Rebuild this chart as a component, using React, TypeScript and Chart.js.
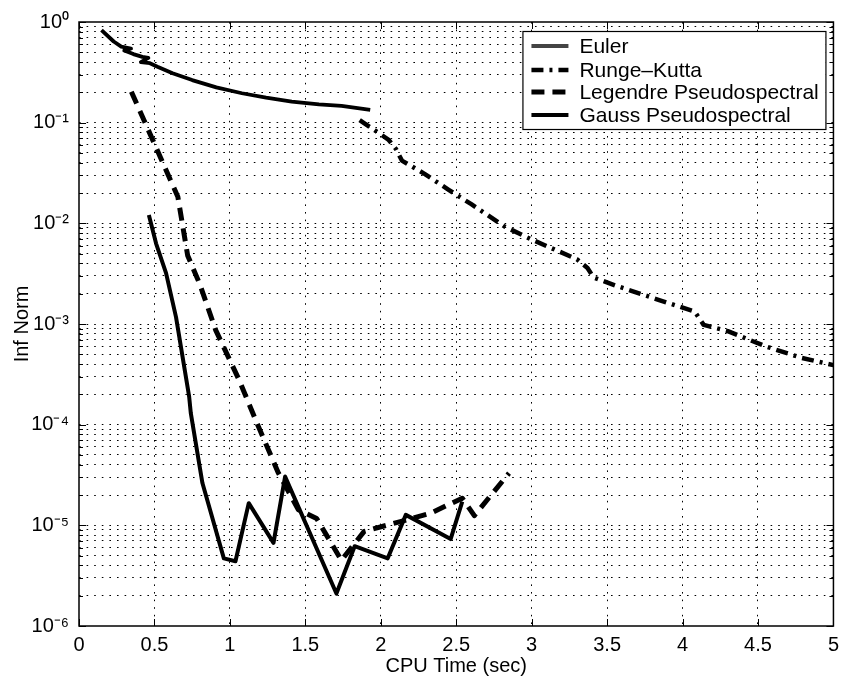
import React, { useEffect, useRef } from "react";
import { Chart, registerables } from "chart.js";

Chart.register(...registerables);

// ---- data ----
const xTickValues = [0, 0.5, 1, 1.5, 2, 2.5, 3, 3.5, 4, 4.5, 5];
const yDecadeExponents = [-6, -5, -4, -3, -2, -1, 0];
const yMinorFactors = [1, 2, 3, 4, 5, 6, 7, 8, 9];
const seriesLabels = ["Euler", "Runge–Kutta", "Legendre Pseudospectral", "Gauss Pseudospectral"];
const xTitle = "CPU Time (sec)";
const yTitle = "Inf Norm";

const eulerX = [0.149, 0.23, 0.28, 0.345, 0.3, 0.36, 0.42, 0.46, 0.41, 0.47, 0.52, 0.62, 0.75, 0.91, 1.08, 1.24, 1.41, 1.59, 1.74, 1.93];
const eulerY = [0.83, 0.64, 0.57, 0.545, 0.52, 0.48, 0.45, 0.44, 0.4, 0.39, 0.36, 0.31, 0.265, 0.224, 0.196, 0.177, 0.162, 0.152, 0.1465, 0.134];

const rkX = [1.86, 2.05, 2.1, 2.14, 2.29, 2.45, 2.6, 2.82, 3.0, 3.3, 3.37, 3.41, 3.56, 3.84, 4.08, 4.14, 4.3, 4.55, 4.79, 5.0];
const rkY = [0.106, 0.068, 0.055, 0.042, 0.031, 0.0215, 0.0155, 0.0093, 0.0069, 0.0044, 0.0036, 0.0029, 0.0024, 0.00174, 0.00133, 0.00098, 0.00085, 0.0006, 0.00046, 0.00039];

const legendreX = [0.347, 0.655, 0.72, 0.8, 0.906, 1.06, 1.19, 1.322, 1.454, 1.575, 1.739, 1.89, 2.13, 2.33, 2.54, 2.62, 2.85];
const legendreY = [0.203, 0.0184, 0.0048, 0.0025, 0.00087, 0.00028, 0.000095, 0.000033, 0.0000143, 0.0000117, 0.0000045, 0.0000087, 0.0000109, 0.0000132, 0.0000186, 0.0000125, 0.000033];

const gaussX = [0.463, 0.511, 0.577, 0.643, 0.73, 0.741, 0.818, 0.96, 1.037, 1.125, 1.289, 1.366, 1.706, 1.827, 2.046, 2.166, 2.463, 2.54];
const gaussY = [0.0121, 0.0063, 0.0032, 0.00117, 0.00019, 0.00013, 0.0000263, 0.0000047, 0.0000044, 0.0000166, 0.0000067, 0.0000305, 0.0000021, 0.0000062, 0.0000047, 0.0000127, 0.0000073, 0.0000172];

// ---- helpers ----
const FONT = "'Liberation Sans', Arial, Helvetica, sans-serif";
const SUP: Record<string, string> = {
  "0": "⁰", "1": "¹", "2": "²", "3": "³", "4": "⁴", "5": "⁵", "6": "⁶", "7": "⁷", "8": "⁸", "9": "⁹", "-": "⁻",
};
const sup = (n: number) => String(n).split("").map((c) => SUP[c] || c).join("");
const toPoints = (xs: number[], ys: number[]) => xs.map((x, i) => ({ x, y: ys[i] }));

const yTickValues: number[] = [];
yDecadeExponents.forEach((e) => {
  if (e === 0) yTickValues.push(1);
  else yMinorFactors.forEach((f) => yTickValues.push(f * Math.pow(10, e)));
});

const styles = [
  { color: "#000", width: 3.8, dash: [] as number[], legendColor: "#444" },
  { color: "#000", width: 4.5, dash: [12, 6, 3, 6], legendColor: "#000" },
  { color: "#000", width: 5, dash: [13, 8], legendColor: "#000" },
  { color: "#000", width: 4, dash: [] as number[], legendColor: "#000" },
];

const framePlugin = {
  id: "matlabFrame",
  afterDraw(chart: any) {
    const { ctx, chartArea: a, scales } = chart;
    ctx.save();
    ctx.strokeStyle = "#000";
    ctx.lineWidth = 1.5;
    ctx.setLineDash([]);
    ctx.strokeRect(a.left, a.top, a.right - a.left, a.bottom - a.top);
    ctx.lineWidth = 1;
    ctx.beginPath();
    xTickValues.forEach((v) => {
      const px = Math.round(scales.x.getPixelForValue(v)) + 0.5;
      ctx.moveTo(px, a.bottom);
      ctx.lineTo(px, a.bottom - 7);
      ctx.moveTo(px, a.top);
      ctx.lineTo(px, a.top + 7);
    });
    yTickValues.forEach((v) => {
      const py = Math.round(scales.y.getPixelForValue(v)) + 0.5;
      const major = Math.abs(Math.log10(v) - Math.round(Math.log10(v))) < 1e-9;
      const len = major ? 7 : 4;
      ctx.moveTo(a.left, py);
      ctx.lineTo(a.left + len, py);
      ctx.moveTo(a.right, py);
      ctx.lineTo(a.right - len, py);
    });
    ctx.stroke();

    // legend box
    const bw = 303, bh = 98;
    const bx = a.right - 8 - bw;
    const by = a.top + 9;
    ctx.fillStyle = "#fff";
    ctx.fillRect(bx, by, bw, bh);
    ctx.strokeStyle = "#000";
    ctx.lineWidth = 1.2;
    ctx.strokeRect(bx + 0.5, by + 0.5, bw, bh);
    const rows = [15, 39, 61, 84];
    ctx.font = `21px ${FONT}`;
    ctx.textBaseline = "middle";
    ctx.textAlign = "left";
    chart.data.datasets.forEach((ds: any, i: number) => {
      const y = by + rows[i];
      const st = styles[i];
      ctx.strokeStyle = st.legendColor;
      ctx.lineWidth = st.width;
      ctx.setLineDash(st.dash);
      ctx.beginPath();
      ctx.moveTo(bx + 9, y);
      ctx.lineTo(bx + 46, y);
      ctx.stroke();
      ctx.setLineDash([]);
      ctx.fillStyle = "#000";
      ctx.fillText(ds.label, bx + 57, y + 1);
    });
    ctx.restore();
  },
};

export default function App() {
  const canvasRef = useRef<HTMLCanvasElement | null>(null);

  useEffect(() => {
    const canvas = canvasRef.current;
    if (!canvas) return;
    const seriesPoints = [
      toPoints(eulerX, eulerY),
      toPoints(rkX, rkY),
      toPoints(legendreX, legendreY),
      toPoints(gaussX, gaussY),
    ];
    const chart = new Chart(canvas, {
      type: "line",
      data: {
        datasets: seriesLabels.map((label, i) => ({
          label,
          data: seriesPoints[i],
          borderColor: styles[i].color,
          borderWidth: styles[i].width,
          borderDash: styles[i].dash,
          pointRadius: 0,
          fill: false,
          tension: 0,
          borderJoinStyle: "round" as const,
        })),
      },
      options: {
        responsive: false,
        animation: false,
        layout: { padding: { left: 0, right: 7, top: 22, bottom: 0 } },
        plugins: { legend: { display: false }, tooltip: { enabled: false } },
        scales: {
          x: {
            type: "linear",
            min: 0,
            max: 5,
            afterBuildTicks: (s: any) => {
              s.ticks = xTickValues.map((value) => ({ value }));
            },
            afterFit: (s: any) => {
              s.height = 52;
            },
            ticks: {
              autoSkip: false,
              maxRotation: 0,
              padding: 7,
              color: "#000",
              font: { family: FONT, size: 20 },
              callback: (v: any) => String(v),
            },
            grid: {
              drawTicks: false,
              color: (c: any) => (c.tick && (c.tick.value === 0 || c.tick.value === 5) ? "rgba(0,0,0,0)" : "#000"),
              lineWidth: 1,
            },
            border: { display: false, dash: [1.6, 6] },
            title: {
              display: true,
              text: xTitle,
              color: "#000",
              font: { family: FONT, size: 20 },
              padding: { top: 0, bottom: 0 },
            },
          },
          y: {
            type: "logarithmic",
            min: 1e-6,
            max: 1,
            afterBuildTicks: (s: any) => {
              s.ticks = yTickValues.map((value) => ({ value }));
            },
            afterFit: (s: any) => {
              s.width = 79;
            },
            ticks: {
              autoSkip: false,
              padding: 10,
              color: "#000",
              font: { family: FONT, size: 20 },
              callback: (v: any) => {
                const e = Math.log10(Number(v));
                if (Math.abs(e - Math.round(e)) < 1e-9) return "10" + sup(Math.round(e));
                return "";
              },
            },
            grid: {
              drawTicks: false,
              color: (c: any) =>
                c.tick && (c.tick.value === 1 || c.tick.value === 1e-6) ? "rgba(0,0,0,0)" : "#000",
              lineWidth: 1,
            },
            border: { display: false, dash: [1.6, 6] },
            title: {
              display: true,
              text: yTitle,
              color: "#000",
              font: { family: FONT, size: 20 },
              padding: { top: 10, bottom: 0 },
            },
          },
        },
      },
      plugins: [framePlugin],
    });
    return () => chart.destroy();
  }, []);

  return (
    <div style={{ position: "fixed", left: 0, top: 0, width: 846, height: 678, background: "#fff" }}>
      <canvas ref={canvasRef} width={846} height={678} style={{ display: "block" }} />
    </div>
  );
}
